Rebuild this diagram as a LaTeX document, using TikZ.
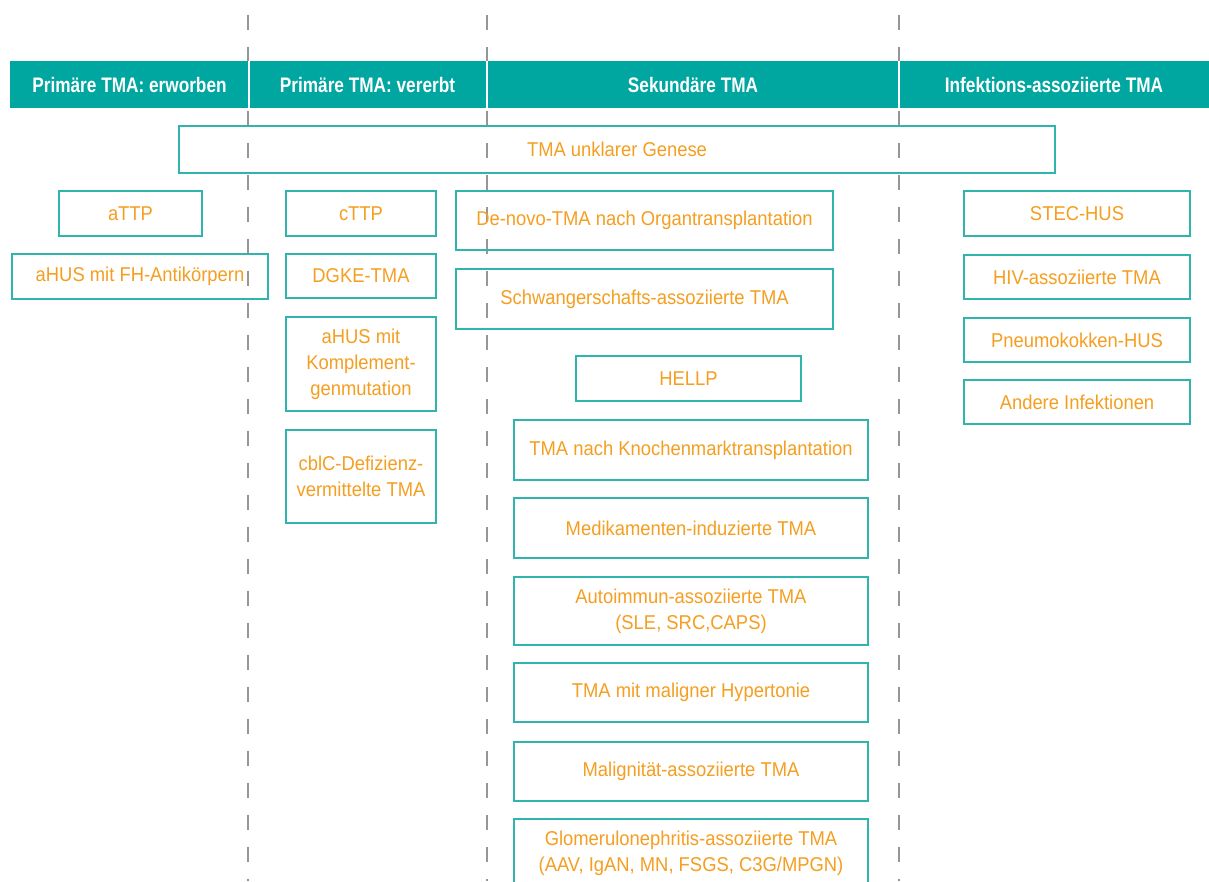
\documentclass[tikz,border=0pt]{standalone}
\usepackage{fontspec}
\setmainfont{Liberation Sans}[FakeStretch=0.92]
\newfontfamily\hdrfont{Liberation Sans}[FakeStretch=0.82]
\definecolor{hdrteal}{RGB}{0,166,160}
\definecolor{boxteal}{RGB}{48,180,174}
\definecolor{txtorange}{RGB}{245,158,32}
\definecolor{dashgray}{RGB}{150,150,150}
\tikzset{
  box/.style={draw=boxteal, line width=1.4pt, text=txtorange, align=center, inner sep=0pt,
    font=\fontsize{20}{26}\selectfont},
  hdr/.style={fill=hdrteal, draw=none, text=white, inner sep=0pt, minimum height=47pt,
    font=\hdrfont\bfseries\fontsize{21}{24}\selectfont},
  divider/.style={draw=dashgray, line width=1.3pt, dash pattern=on 15pt off 17pt},
  sep/.style={draw=white, line width=2pt}
}
\begin{document}
\begin{tikzpicture}[x=1pt,y=-1pt]
\useasboundingbox (0,0) rectangle (1209,881);
\fill[white] (0,0) rectangle (1209,881);
% divider lines
\coordinate (d1t) at (248,15); \coordinate (d1b) at (248,881);
\coordinate (d2t) at (487,15); \coordinate (d2b) at (487,881);
\coordinate (d3t) at (899,15); \coordinate (d3b) at (899,881);
\draw[divider] (d1t) -- (d1b);
\draw[divider] (d2t) -- (d2b);
\draw[divider] (d3t) -- (d3b);
% header
\node[hdr, minimum width=239pt] (h1) at (129.5,84.5) {Primäre TMA: erworben};
\node[hdr, minimum width=239pt] (h2) at (367.5,84.5) {Primäre TMA: vererbt};
\node[hdr, minimum width=412pt] (h3) at (693,84.5) {Sekundäre TMA};
\node[hdr, minimum width=310pt] (h4) at (1054,84.5) {Infektions-assoziierte TMA};
\draw[sep] (h1.north east) -- (h1.south east);
\draw[sep] (h2.north east) -- (h2.south east);
\draw[sep] (h3.north east) -- (h3.south east);
% spanning box
\node[box, minimum width=876pt, minimum height=47pt] (unklar) at (617,149.5) {TMA unklarer Genese};
% column 1
\node[box, minimum width=143pt, minimum height=45pt] (attp) at (130.5,213.5) {aTTP};
\node[box, minimum width=256pt, minimum height=45pt] (ahusfh) at (140,276.5) {aHUS mit FH-Antikörpern};
% column 2
\node[box, minimum width=150pt, minimum height=45pt] (cttp) at (361,213.5) {cTTP};
\node[box, minimum width=150pt, minimum height=44pt] (dgke) at (361,276) {DGKE-TMA};
\node[box, minimum width=150pt, minimum height=94pt] (kompl) at (361,364) {aHUS mit\\Komplement-\\genmutation};
\node[box, minimum width=150pt, minimum height=93pt] (cblc) at (361,476.5) {cblC-Defizienz-\\vermittelte TMA};
% column 3
\node[box, minimum width=377pt, minimum height=59pt] (denovo) at (644.5,220.5) {De-novo-TMA nach Organtransplantation};
\node[box, minimum width=377pt, minimum height=60pt] (schw) at (644.5,299) {Schwangerschafts-assoziierte TMA};
\node[box, minimum width=225pt, minimum height=45pt] (hellp) at (688.5,378.5) {HELLP};
\node[box, minimum width=354pt, minimum height=60pt] (kmt) at (691,450) {TMA nach Knochenmarktransplantation};
\node[box, minimum width=354pt, minimum height=60pt] (medi) at (691,528) {Medikamenten-induzierte TMA};
\node[box, minimum width=354pt, minimum height=68pt] (auto) at (691,611) {Autoimmun-assoziierte TMA\\(SLE, SRC,CAPS)};
\node[box, minimum width=354pt, minimum height=59pt] (hyper) at (691,692.5) {TMA mit maligner Hypertonie};
\node[box, minimum width=354pt, minimum height=59pt] (malig) at (691,771.5) {Malignität-assoziierte TMA};
\node[box, minimum width=354pt, minimum height=68pt] (glom) at (691,853) {Glomerulonephritis-assoziierte TMA\\(AAV, IgAN, MN, FSGS, C3G/MPGN)};
% column 4
\node[box, minimum width=226pt, minimum height=45pt] (stec) at (1077,213.5) {STEC-HUS};
\node[box, minimum width=226pt, minimum height=44pt] (hiv) at (1077,277) {HIV-assoziierte TMA};
\node[box, minimum width=226pt, minimum height=44pt] (pneu) at (1077,340) {Pneumokokken-HUS};
\node[box, minimum width=226pt, minimum height=44pt] (andere) at (1077,402) {Andere Infektionen};
\end{tikzpicture}
\end{document}
